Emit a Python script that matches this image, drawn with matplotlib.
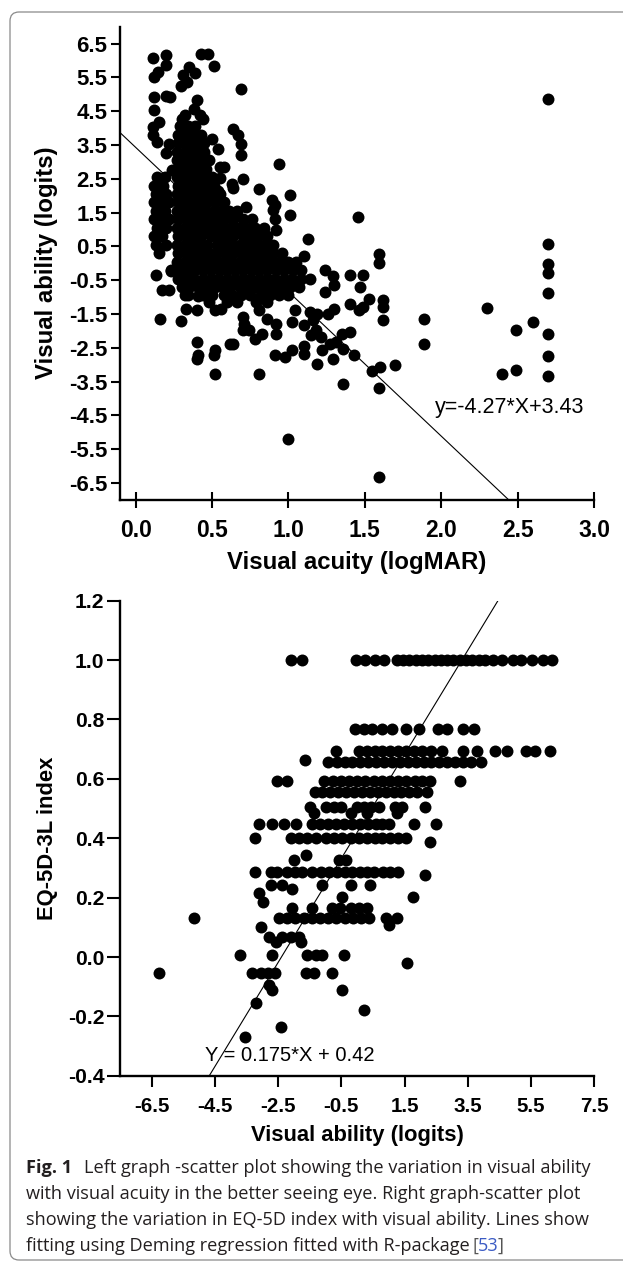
import matplotlib
matplotlib.use('Agg')
import matplotlib.pyplot as plt
from matplotlib.patches import FancyBboxPatch
from matplotlib.transforms import IdentityTransform

plt.rcParams['font.family'] = ['Liberation Sans', 'DejaVu Sans']

# ------------------------------------------------------------------ data
# Top panel: visual acuity (logMAR) vs visual ability (logits)
acuity_ticks = [0.0, 0.5, 1.0, 1.5, 2.0, 2.5, 3.0]
ability_ticks = [6.5, 5.5, 4.5, 3.5, 2.5, 1.5, 0.5, -0.5, -1.5, -2.5, -3.5, -4.5, -5.5, -6.5]
fit1_slope, fit1_intercept = -4.27, 3.43

# isolated points (acuity, ability)
top_acuity = [0.112, 0.20, 0.117, 0.145, 0.20, 0.43, 0.476, 0.515, 0.346, 0.39, 0.307, 0.333, 0.294, 0.69,
              0.117, 0.20, 0.225, 0.40, 0.385, 0.42, 0.32, 0.30, 0.44, 0.117, 0.15, 0.112, 0.112, 0.139,
              0.64, 0.67, 0.69, 0.69, 0.216, 0.20, 0.50, 0.536, 0.94, 0.55, 0.58, 0.55, 0.70, 0.63, 0.64,
              0.81, 0.536, 0.46, 0.72, 0.89, 0.90, 1.01, 1.01, 0.91, 0.91, 0.92, 1.457, 1.13, 1.10, 1.59,
              1.59, 0.24, 0.45,
              1.24, 1.29, 1.30, 1.24, 1.40, 1.49, 1.47, 1.40, 1.46, 1.53, 1.49, 1.62, 1.62, 1.62, 1.89,
              1.89, 1.30, 1.26, 1.19, 1.14, 1.04, 1.02, 1.10, 1.15, 1.21, 1.16, 1.18, 0.92, 0.92, 0.91,
              0.98, 1.02, 1.10, 1.10, 1.19, 1.22, 1.27, 1.31, 1.35, 1.40, 1.36, 1.29, 1.43, 1.36, 1.55,
              1.60, 1.70, 1.59, 1.00, 1.59,
              0.136, 0.234, 0.17, 0.22, 0.158, 0.295, 0.32, 0.41, 0.33, 0.40, 0.52, 0.56, 0.40, 0.41,
              0.40, 0.51, 0.52, 0.52, 0.62, 0.64, 0.81, 0.70, 0.71, 0.70, 0.74, 0.78, 0.83, 0.81, 0.86,
              2.70, 2.70, 2.70, 2.70, 2.70, 2.30, 2.60, 2.49, 2.70, 2.70, 2.40, 2.49, 2.70]
top_ability = [6.06, 6.15, 5.51, 5.66, 5.86, 6.18, 6.18, 5.83, 5.81, 5.63, 5.56, 5.36, 5.25, 5.17,
               4.93, 4.95, 4.92, 4.82, 4.57, 4.38, 4.38, 4.26, 4.28, 4.53, 4.18, 4.03, 3.79, 3.59,
               3.98, 3.79, 3.54, 3.20, 3.54, 3.25, 3.69, 3.39, 2.95, 2.85, 2.85, 2.51, 2.49, 2.34, 2.24,
               2.21, 2.13, 2.13, 1.67, 1.86, 1.57, 2.03, 1.42, 1.72, 1.30, 1.00, 1.37, 0.73, 0.21, 0.29,
               0.01, 2.75, 2.85,
               -0.19, -0.38, -0.65, -0.85, -0.33, -0.33, -0.70, -1.19, -1.39, -1.04, -1.29, -1.09, -1.29, -1.69, -1.64,
               -2.38, -1.34, -1.49, -1.49, -1.44, -1.39, -1.74, -1.83, -2.13, -2.18, -1.69, -1.98, -2.08, -1.78, -2.72,
               -2.77, -2.57, -2.43, -2.67, -2.97, -2.57, -2.38, -2.33, -2.08, -2.03, -2.52, -2.82, -2.72, -3.56, -3.17,
               -3.07, -3.02, -3.69, -5.19, -6.32,
               -0.35, -0.23, -0.80, -0.78, -1.64, -1.71, -0.95, -0.98, -1.34, -1.39, -1.39, -1.34, -2.33, -2.72,
               -2.82, -2.72, -2.57, -3.26, -2.38, -2.38, -3.28, -1.59, -1.78, -1.98, -1.98, -2.23, -2.08, -1.39, -1.64,
               4.87, 0.58, -0.01, -0.30, -0.88, -1.32, -1.74, -1.98, -2.08, -2.75, -3.26, -3.14, -3.33]

# dense cluster, read row by row: (ability, [acuity, ...])
top_rows = [
    (4.05, [0.29, 0.34, 0.39]),
    (3.80, [0.28, 0.33, 0.38, 0.43]),
    (3.55, [0.28, 0.32, 0.37, 0.42, 0.45]),
    (3.30, [0.27, 0.32, 0.36, 0.41, 0.45]),
    (3.05, [0.27, 0.31, 0.36, 0.40, 0.44, 0.48]),
    (2.80, [0.27, 0.32, 0.37, 0.41, 0.46]),
    (2.55, [0.14, 0.19, 0.27, 0.31, 0.36, 0.41, 0.45, 0.50]),
    (2.30, [0.12, 0.18, 0.28, 0.33, 0.38, 0.42, 0.47, 0.51]),
    (2.05, [0.13, 0.20, 0.27, 0.31, 0.36, 0.40, 0.45, 0.50, 0.55]),
    (1.80, [0.12, 0.17, 0.22, 0.28, 0.32, 0.37, 0.42, 0.47, 0.52, 0.58]),
    (1.55, [0.13, 0.19, 0.27, 0.31, 0.36, 0.41, 0.46, 0.51, 0.56, 0.61, 0.66]),
    (1.30, [0.12, 0.17, 0.22, 0.28, 0.33, 0.38, 0.43, 0.48, 0.53, 0.58, 0.64, 0.70, 0.76]),
    (1.05, [0.14, 0.20, 0.27, 0.32, 0.37, 0.42, 0.47, 0.52, 0.57, 0.62, 0.67, 0.72, 0.78, 0.84]),
    (0.80, [0.12, 0.17, 0.28, 0.33, 0.38, 0.43, 0.49, 0.54, 0.59, 0.64, 0.70, 0.75, 0.80, 0.86]),
    (0.55, [0.13, 0.20, 0.27, 0.32, 0.37, 0.42, 0.47, 0.53, 0.58, 0.63, 0.68, 0.74, 0.79, 0.84, 0.90]),
    (0.30, [0.15, 0.28, 0.33, 0.38, 0.43, 0.48, 0.53, 0.59, 0.64, 0.69, 0.74, 0.80, 0.85, 0.90, 0.96]),
    (0.05, [0.27, 0.32, 0.37, 0.42, 0.47, 0.52, 0.57, 0.63, 0.68, 0.73, 0.78, 0.84, 0.89, 0.94, 1.00, 1.05]),
    (-0.20, [0.23, 0.29, 0.34, 0.39, 0.44, 0.49, 0.55, 0.60, 0.65, 0.70, 0.76, 0.81, 0.86, 0.92, 0.97, 1.03, 1.08]),
    (-0.45, [0.28, 0.33, 0.38, 0.44, 0.49, 0.54, 0.60, 0.65, 0.70, 0.75, 0.81, 0.86, 0.91, 0.97, 1.02, 1.08, 1.14]),
    (-0.70, [0.30, 0.35, 0.41, 0.46, 0.52, 0.57, 0.62, 0.68, 0.73, 0.79, 0.84, 0.90, 0.95, 1.01, 1.07]),
    (-0.95, [0.34, 0.44, 0.50, 0.58, 0.63, 0.69, 0.75, 0.82, 0.88, 0.94, 1.00]),
    (-1.15, [0.48, 0.60, 0.66, 0.79, 0.86]),
]

# Bottom panel: visual ability (logits) vs EQ-5D-3L index
logit_ticks = [-6.5, -4.5, -2.5, -0.5, 1.5, 3.5, 5.5, 7.5]
eq_ticks = [-0.4, -0.2, 0.0, 0.2, 0.4, 0.6, 0.8, 1.0, 1.2]
fit2_slope, fit2_intercept = 0.175, 0.42

# (EQ-5D index, [visual ability, ...])
eq_rows = [
    (1.000, [-2.10, -1.74, -0.03, 0.25, 0.55, 0.85, 1.25, 1.45, 1.65, 1.85, 2.05, 2.25, 2.45, 2.65, 2.85,
             3.05, 3.25, 3.45, 3.65, 3.85, 4.05, 4.30, 4.60, 4.93, 5.18, 5.55, 5.87, 6.18]),
    (0.767, [-0.08, 0.20, 0.48, 0.78, 1.10, 1.53, 1.95, 2.55, 2.85, 3.35, 3.70]),
    (0.695, [-0.66, 0.05, 0.30, 0.55, 0.80, 1.05, 1.30, 1.55, 1.80, 2.05, 2.35, 2.67, 3.36, 3.80, 4.36,
             4.74, 5.36, 5.62, 6.12]),
    (0.665, [-1.66]),
    (0.658, [-0.91, -0.65, -0.40, -0.15, 0.10, 0.35, 0.60, 0.85, 1.10, 1.35, 1.60, 1.85, 2.10, 2.35, 2.60,
             2.85, 3.10, 3.35, 3.60, 3.92]),
    (0.593, [-2.55, -2.23, -1.04, -0.78, -0.52, -0.26, 0.00, 0.26, 0.52, 0.78, 1.04, 1.30, 1.56, 1.82, 2.05,
             2.29, 3.27]),
    (0.555, [-1.35, -1.10, -0.85, -0.60, -0.35, -0.10, 0.15, 0.40, 0.65, 0.90, 1.15, 1.40, 1.65, 1.90, 2.22]),
    (0.506, [-1.50, -1.00, -0.75, -0.50, 0.00, 0.22, 0.45, 0.68, 1.20, 1.42, 2.16]),
    (0.485, [-1.38, -0.20, 0.32, 1.25]),
    (0.447, [-3.12, -2.69, -2.32, -1.95, -1.42, -1.17, -0.92, -0.67, -0.42, -0.17, 0.08, 0.33, 0.58, 0.80,
             1.00, 1.79, 2.48]),
    (0.400, [-3.24, -2.11, -1.85, -1.60, -1.30, -1.00, -0.74, -0.47, -0.20, 0.05, 0.30, 0.55, 0.80, 1.05,
             1.30, 1.55]),
    (0.388, [2.29]),
    (0.343, [-1.63]),
    (0.327, [-2.00, -0.58, -0.37]),
    (0.287, [-3.24, -2.74, -2.53, -2.23, -1.98, -1.75, -1.42, -1.15, -0.90, -0.65, -0.40, -0.15, 0.10, 0.32,
             0.53, 0.82, 1.05, 1.28]),
    (0.276, [2.14]),
    (0.242, [-2.74, -2.37, -1.10, -0.21, 0.42]),
    (0.230, [-2.05]),
    (0.214, [-3.12]),
    (0.203, [-0.47, 1.76]),
    (0.186, [-2.98]),
    (0.164, [-2.05, -1.42, -0.79, -0.53, -0.21, 0.05, 0.32]),
    (0.130, [-5.16, -2.48, -2.22, -1.96, -1.70, -1.44, -1.18, -0.92, -0.66, -0.40, -0.14, 0.12, 0.37, 0.90, 1.27]),
    (0.108, [1.00]),
    (0.100, [-3.06]),
    (0.068, [-2.79, -2.37, -2.11, -1.84]),
    (0.052, [-2.58, -1.79]),
    (0.007, [-3.70, -2.69, -1.58, -1.32, -1.10, -0.42]),
    (-0.021, [1.58]),
    (-0.055, [-6.29, -3.34, -3.05, -2.82, -2.60, -1.63, -1.37, -0.79]),
    (-0.094, [-2.79]),
    (-0.111, [-2.69, -0.47]),
    (-0.156, [-3.21]),
    (-0.178, [0.21]),
    (-0.235, [-2.42]),
    (-0.268, [-3.55]),
]

caption_bold = "Fig. 1"
caption_lines = [
    "Left graph -scatter plot showing the variation in visual ability",
    "with visual acuity in the better seeing eye. Right graph-scatter plot",
    "showing the variation in EQ-5D index with visual ability. Lines show",
    "fitting using Deming regression fitted with R-package",
]
caption_ref = "53"

# ------------------------------------------------------------------ figure
W, H = 623, 1265
fig = plt.figure(figsize=(W / 100, H / 100), dpi=100)
fig.patch.set_facecolor('white')


def fx(px):
    return px / W


def fy(py):
    return 1 - py / H


def expand(rows, xs, ys):
    ox, oy = list(xs), list(ys)
    for val, lst in rows:
        for v in lst:
            ox.append(v)
            oy.append(val)
    return ox, oy


# frame around the figure
frame = FancyBboxPatch((10, 5), 700, 1248, boxstyle="round,pad=0,rounding_size=9",
                       transform=IdentityTransform(), fill=False, edgecolor='#8a8a8a',
                       linewidth=0.9, figure=fig)
fig.patches.append(frame)

MS = 74

# ---- top panel
ax1 = fig.add_axes([fx(120.4), fy(500), fx(594) - fx(120.4), fy(26.7) - fy(500)])
ax1.set_xlim(-0.1, 3.0)
ax1.set_ylim(-7, 7)
tx, ty = expand(top_rows, top_acuity, top_ability)
ax1.scatter(tx, ty, s=MS, c='black', linewidths=0, zorder=2)
x0, x1 = -0.1, (-7 - fit1_intercept) / fit1_slope
ax1.plot([x0, x1], [fit1_slope * x0 + fit1_intercept, fit1_slope * x1 + fit1_intercept],
         color='black', lw=0.8, zorder=3)
ax1.text(1.96, -4.25, f"y={fit1_slope}*X+{fit1_intercept}", ha='left', va='center', fontsize=15.5)
ax1.set_xticks(acuity_ticks)
ax1.set_xticklabels([f"{v:.1f}" for v in acuity_ticks])
ax1.set_yticks(ability_ticks)
ax1.set_yticklabels([f"{v:.1f}" for v in ability_ticks])
ax1.tick_params(axis='x', direction='inout', length=12, width=1.5, pad=7.5, labelsize=16.5)
ax1.tick_params(axis='y', direction='out', length=6.5, width=1.5, pad=2.7, labelsize=16)

# ---- bottom panel
ax2 = fig.add_axes([fx(120.4), fy(1075.8), fx(594) - fx(120.4), fy(600.7) - fy(1075.8)])
ax2.set_xlim(-7.5, 7.5)
ax2.set_ylim(-0.4, 1.2)
bx, by = expand(eq_rows, [], [])
ax2.scatter(bx, by, s=MS, c='black', linewidths=0, zorder=2)
ya, yb = -0.4, 1.2
ax2.plot([(ya - fit2_intercept) / fit2_slope, (yb - fit2_intercept) / fit2_slope], [ya, yb],
         color='black', lw=0.8, zorder=3)
ax2.text(-4.81, -0.333, f"Y = {fit2_slope}*X + {fit2_intercept}", ha='left', va='center', fontsize=14.5)
ax2.set_xticks(logit_ticks)
ax2.set_xticklabels([f"{v:.1f}" for v in logit_ticks])
ax2.set_yticks(eq_ticks)
ax2.set_yticklabels([f"{v:.1f}" for v in eq_ticks])
ax2.tick_params(axis='x', direction='out', length=8, width=1.5, pad=7.5, labelsize=14.8)
ax2.tick_params(axis='y', direction='out', length=9.4, width=1.5, pad=2.2, labelsize=15.2)

for ax in (ax1, ax2):
    for s in ('top', 'right'):
        ax.spines[s].set_visible(False)
    for s in ('left', 'bottom'):
        ax.spines[s].set_linewidth(1.7)
    for lab in ax.get_xticklabels() + ax.get_yticklabels():
        lab.set_fontweight('bold')
    ax.set_facecolor('none')

# axis titles
fig.text(fx(357), fy(562), "Visual acuity (logMAR)", ha='center', va='center', fontsize=17.3, fontweight='bold')
fig.text(fx(46.5), fy(263), "Visual ability (logits)", ha='center', va='center', rotation=90,
         fontsize=17.3, fontweight='bold')
fig.text(fx(357), fy(1135), "Visual ability (logits)", ha='center', va='center', fontsize=15.8, fontweight='bold')
fig.text(fx(47.5), fy(838), "EQ-5D-3L index", ha='center', va='center', rotation=90,
         fontsize=15.8, fontweight='bold')

# caption
cap_font = ['Open Sans', 'DejaVu Sans']
cap_size = 13.1
cap_color = '#231f20'
baselines = [1173.3, 1199.3, 1225.0, 1250.7]
fig.canvas.draw()
r = fig.canvas.get_renderer()

t = fig.text(fx(25.8), fy(baselines[0]), caption_bold, ha='left', va='baseline', family=cap_font,
             fontsize=cap_size, fontweight='bold', color=cap_color)
bb = t.get_window_extent(renderer=r)
fig.text((bb.x1 + 12) / W, fy(baselines[0]), caption_lines[0], ha='left', va='baseline', family=cap_font,
         fontsize=cap_size, color=cap_color)
for i in (1, 2):
    fig.text(fx(25.8), fy(baselines[i]), caption_lines[i], ha='left', va='baseline', family=cap_font,
             fontsize=cap_size, color=cap_color)
t = fig.text(fx(25.8), fy(baselines[3]), caption_lines[3], ha='left', va='baseline', family=cap_font,
             fontsize=cap_size, color=cap_color)
bb = t.get_window_extent(renderer=r)
t = fig.text((bb.x1 + 3) / W, fy(baselines[3]), "[", ha='left', va='baseline', family=cap_font,
             fontsize=cap_size, color='#555555')
bb = t.get_window_extent(renderer=r)
t = fig.text((bb.x1 - 1) / W, fy(baselines[3]), caption_ref, ha='left', va='baseline', family=cap_font,
             fontsize=cap_size, color='#3b5bc4')
bb = t.get_window_extent(renderer=r)
fig.text((bb.x1 - 1) / W, fy(baselines[3]), "]", ha='left', va='baseline', family=cap_font,
         fontsize=cap_size, color='#555555')

fig.savefig('out.png', dpi=100, facecolor='white')
